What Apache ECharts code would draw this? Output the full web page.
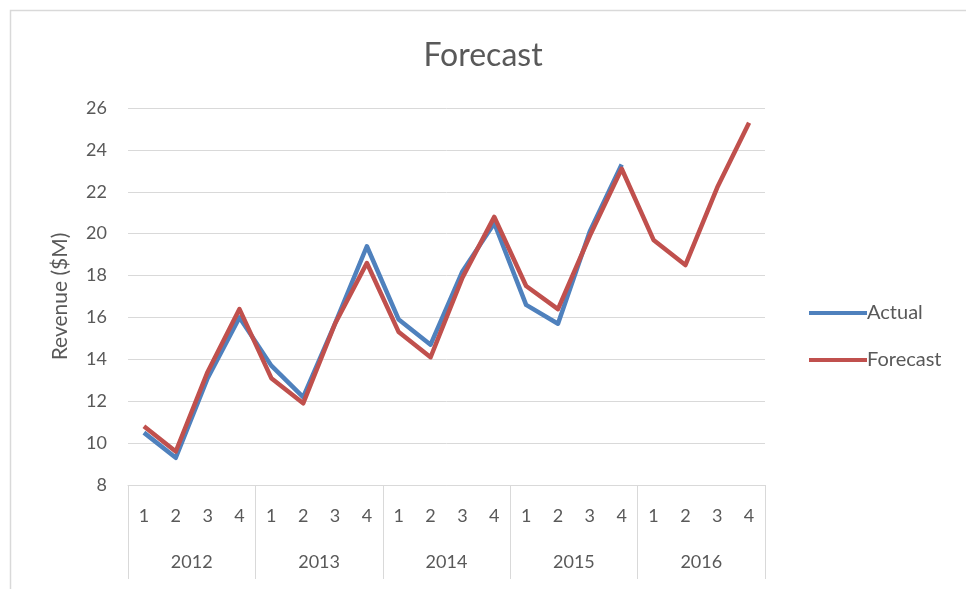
<!DOCTYPE html>
<html>
<head>
<meta charset="utf-8">
<style>
  html, body { margin: 0; padding: 0; background: #ffffff; }
  #chart { width: 966px; height: 589px; }
</style>
<script src="https://cdn.jsdelivr.net/npm/echarts@6/dist/echarts.min.js"></script>
</head>
<body>
<div id="chart"></div>
<script>
// Quarterly revenue, actual vs. forecast ($M)
const years = ['2012', '2013', '2014', '2015', '2016'];
const quarters = [
  '1', '2', '3', '4', '1', '2', '3', '4', '1', '2',
  '3', '4', '1', '2', '3', '4', '1', '2', '3', '4'
];
const actual = [
  10.5, 9.3, 13.1, 16.0,
  13.7, 12.2, 15.7, 19.4,
  15.9, 14.7, 18.2, 20.5,
  16.6, 15.7, 20.1, 23.3,
  null, null, null, null
];
const forecast = [
  10.8, 9.6, 13.4, 16.4,
  13.1, 11.9, 15.7, 18.6,
  15.3, 14.1, 17.9, 20.8,
  17.5, 16.4, 19.9, 23.1,
  19.7, 18.5, 22.2, 25.3
];
const yTicks = { min: 8, max: 26, step: 2 };

const textColor = '#595959';
const lineGrey = '#d9d9d9';
const font = 'Lato, "Open Sans", sans-serif';

const chart = echarts.init(document.getElementById('chart'), null, { renderer: 'canvas' });

chart.setOption({
  animation: false,
  backgroundColor: '#ffffff',
  textStyle: { fontFamily: font },
  graphic: [{
    type: 'rect',
    left: 8, top: 8,
    shape: { width: 1200, height: 1200 },
    style: { fill: 'none', stroke: lineGrey, lineWidth: 1.5 },
    silent: true, z: -1
  }],
  title: {
    text: 'Forecast',
    left: 'center',
    top: 35,
    textStyle: { color: textColor, fontSize: 32, fontWeight: 'normal', fontFamily: font }
  },
  legend: {
    orient: 'vertical',
    left: 804,
    top: 296,
    itemWidth: 58,
    itemHeight: 4,
    itemGap: 23,
    icon: 'rect',
    textStyle: {
      color: textColor, fontSize: 20, lineHeight: 24,
      fontFamily: font, padding: [0, 0, 0, -5]
    },
    data: ['Actual', 'Forecast']
  },
  grid: { left: 128, right: 201, top: 108, bottom: 104, containLabel: false },
  xAxis: [
    {
      type: 'category',
      data: quarters,
      position: 'bottom',
      boundaryGap: true,
      axisLine: { show: true, lineStyle: { color: lineGrey, width: 1 } },
      axisTick: { show: false },
      axisLabel: { color: textColor, fontSize: 18, margin: 22, interval: 0, fontFamily: font }
    },
    {
      type: 'category',
      data: years,
      position: 'bottom',
      boundaryGap: true,
      axisLine: { show: false },
      axisTick: { show: true, length: 94, lineStyle: { color: lineGrey, width: 1 } },
      axisLabel: { color: textColor, fontSize: 18, margin: 68, interval: 0, fontFamily: font }
    }
  ],
  yAxis: {
    type: 'value',
    min: yTicks.min,
    max: yTicks.max,
    interval: yTicks.step,
    name: 'Revenue ($M)',
    nameLocation: 'middle',
    nameGap: 57,
    nameRotate: 90,
    nameTextStyle: { color: textColor, fontSize: 21, fontFamily: font },
    axisLine: { show: false },
    axisTick: { show: false },
    axisLabel: { color: textColor, fontSize: 18, margin: 21, fontFamily: font },
    splitLine: { lineStyle: { color: lineGrey, width: 1 } }
  },
  series: [
    {
      name: 'Actual',
      type: 'line',
      data: actual,
      xAxisIndex: 0,
      symbol: 'none',
      connectNulls: false,
      color: '#4f81bd',
      lineStyle: { width: 4.5, color: '#4f81bd', join: 'round' },
      z: 2
    },
    {
      name: 'Forecast',
      type: 'line',
      data: forecast,
      xAxisIndex: 0,
      symbol: 'none',
      color: '#c0504d',
      lineStyle: { width: 4.5, color: '#c0504d', join: 'round' },
      z: 3
    }
  ]
});
</script>
</body>
</html>
